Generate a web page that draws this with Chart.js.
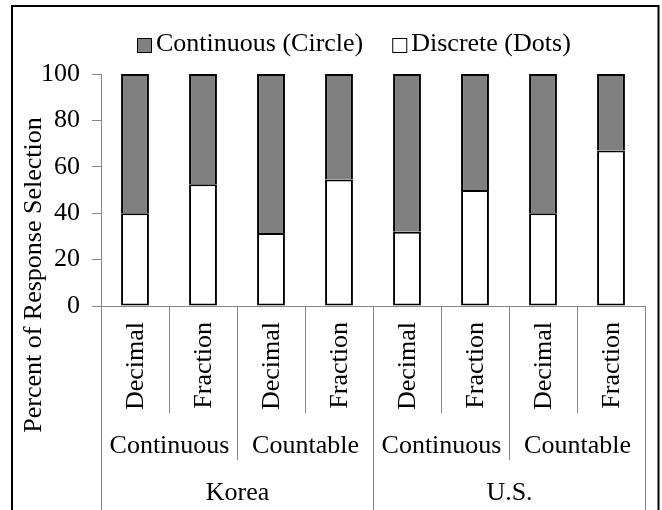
<!DOCTYPE html>
<html>
<head>
<meta charset="utf-8">
<script src="https://cdn.jsdelivr.net/npm/chart.js@4/dist/chart.umd.min.js"></script>
<style>
  html, body { margin: 0; padding: 0; background: #fff; }
  #wrap { width: 662px; height: 510px; }
</style>
</head>
<body>
<div id="wrap"><canvas id="c" width="662" height="510"></canvas></div>
<script>
// ---- data ----
const innerLabels = ["Decimal", "Fraction", "Decimal", "Fraction", "Decimal", "Fraction", "Decimal", "Fraction"];
const midLabels = ["Continuous", "Countable", "Continuous", "Countable"];
const outerLabels = ["Korea", "U.S."];
const discreteValues = [40, 52.5, 31.5, 54.5, 32, 50, 40, 67];
const continuousValues = [60, 47.5, 68.5, 45.5, 68, 50, 60, 33];
const seriesNames = ["Continuous (Circle)", "Discrete (Dots)"];
const yTicks = [0, 20, 40, 60, 80, 100];
const yTitle = "Percent of Response Selection";

const FONT = "Liberation Serif, 'Times New Roman', serif";
const AXIS = "#868686";

const decor = {
  id: "decor",
  afterDraw(chart) {
    const ctx = chart.ctx;
    const x = chart.scales.x;
    const area = chart.chartArea;
    const n = innerLabels.length;
    const step = x.getPixelForValue(1) - x.getPixelForValue(0);
    const bnd = k => Math.round(x.getPixelForValue(0) - step / 2 + k * step) + 0.5;
    const axisY = Math.round(area.bottom);
    ctx.save();
    // separators
    ctx.strokeStyle = AXIS;
    ctx.lineWidth = 1;
    for (let k = 0; k <= n; k++) {
      let end = 413;
      if (k % 2 === 0) end = 460;
      if (k % 4 === 0) end = 512;
      ctx.beginPath();
      ctx.moveTo(bnd(k), axisY);
      ctx.lineTo(bnd(k), end);
      ctx.stroke();
    }
    // inner labels (rotated)
    ctx.fillStyle = "#000";
    ctx.font = "26px " + FONT;
    ctx.textAlign = "right";
    ctx.textBaseline = "middle";
    innerLabels.forEach((t, i) => {
      ctx.save();
      ctx.translate(x.getPixelForValue(i), 322);
      ctx.rotate(-Math.PI / 2);
      ctx.fillText(t, 0, 1);
      ctx.restore();
    });
    // mid labels
    ctx.textAlign = "center";
    midLabels.forEach((t, g) => {
      const cx = (bnd(g * 2) + bnd(g * 2 + 2)) / 2;
      ctx.fillText(t, cx, 446);
    });
    outerLabels.forEach((t, g) => {
      const cx = (bnd(g * 4) + bnd(g * 4 + 4)) / 2;
      ctx.fillText(t, cx, 493);
    });
    // y title
    ctx.save();
    ctx.translate(34, 275);
    ctx.rotate(-Math.PI / 2);
    ctx.fillText(yTitle, 0, 0);
    ctx.restore();
    // legend
    const ly = 44;
    const items = [
      { name: seriesNames[0], fill: "#808080" },
      { name: seriesNames[1], fill: "#ffffff" }
    ];
    ctx.font = "26px " + FONT;
    ctx.textAlign = "left";
    const box = 15, gapBox = 4, gapItem = 29;
    let lx = 137;
    items.forEach(it => {
      ctx.fillStyle = it.fill;
      ctx.fillRect(lx, 38, box, box);
      ctx.strokeStyle = "#000";
      ctx.lineWidth = 1;
      ctx.strokeRect(lx + 0.5, 38.5, box - 1, box - 1);
      lx += box + gapBox;
      ctx.fillStyle = "#000";
      ctx.fillText(it.name, lx, ly);
      lx += ctx.measureText(it.name).width + gapItem;
    });
    // outer border
    ctx.strokeStyle = "#000";
    ctx.lineWidth = 2;
    ctx.beginPath();
    ctx.moveTo(12, 530);
    ctx.lineTo(12, 6);
    ctx.lineTo(658.5, 6);
    ctx.lineTo(658.5, 530);
    ctx.stroke();
    ctx.restore();
  }
};

new Chart(document.getElementById("c"), {
  type: "bar",
  data: {
    labels: innerLabels,
    datasets: [
      {
        label: seriesNames[1],
        data: discreteValues,
        backgroundColor: "#ffffff",
        borderColor: "#000000",
        borderWidth: 2,
        borderSkipped: false,
        barPercentage: 0.41,
        categoryPercentage: 1.0
      },
      {
        label: seriesNames[0],
        data: continuousValues,
        backgroundColor: "#808080",
        borderColor: "#000000",
        borderWidth: 2,
        borderSkipped: "start",
        barPercentage: 0.41,
        categoryPercentage: 1.0
      }
    ]
  },
  options: {
    responsive: false,
    animation: false,
    events: [],
    layout: { padding: { top: 74, right: 17, left: 0, bottom: 0 } },
    plugins: { legend: { display: false }, tooltip: { enabled: false } },
    scales: {
      x: {
        stacked: true,
        grid: { display: false },
        border: { display: true, color: AXIS, width: 1 },
        ticks: { display: false },
        afterFit(s) { s.height = 204; }
      },
      y: {
        stacked: true,
        min: 0,
        max: 100,
        afterBuildTicks(s) { s.ticks = yTicks.map(v => ({ value: v })); },
        ticks: { stepSize: 20, color: "#000", font: { family: FONT, size: 26 }, padding: 12 },
        grid: { drawOnChartArea: false, drawTicks: true, tickLength: 9, color: AXIS },
        border: { display: true, color: AXIS, width: 1 },
        afterFit(s) { s.width = 101; }
      }
    }
  },
  plugins: [decor]
});
</script>
</body>
</html>
